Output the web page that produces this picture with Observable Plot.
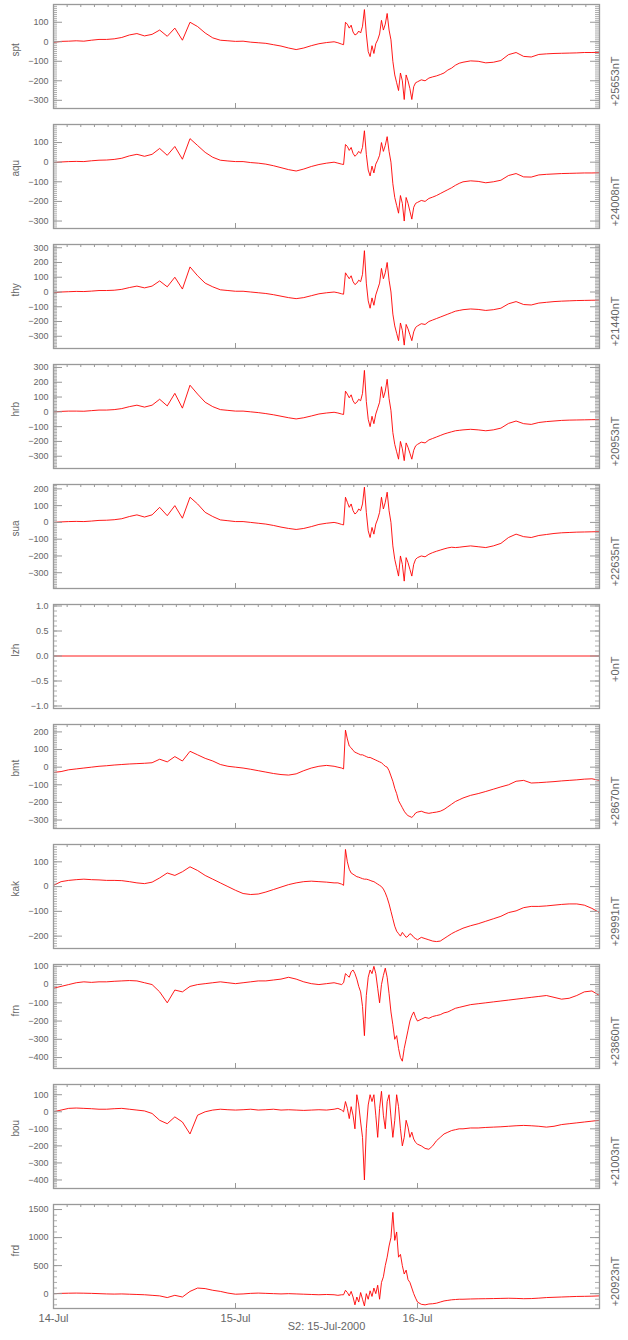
<!DOCTYPE html>
<html>
<head>
<meta charset="utf-8">
<script src="https://cdn.jsdelivr.net/npm/d3@7"></script>
<script src="https://cdn.jsdelivr.net/npm/@observablehq/plot@0.6"></script>
<style>
  body { margin: 0; background: #fff; }
  #chart svg { display: block; }
</style>
</head>
<body>
<div id="chart"></div>
<script>
// Hours since 14-Jul-2000 00:00 UT (shared time grid)
const hours = [0,1,2,3,4,5,6,7,8,9,10,11,12,13,14,15,16,17,18,19,20,21,22,23,24,25,26,27,28,29,30,31,32,33,34,35,36,37,
  37.5,38,
  38.25,38.5,38.75,39,39.25,39.5,39.75,40,40.25,40.5,40.75,41,41.25,41.5,41.75,42,42.25,42.5,42.75,43,43.25,43.5,43.75,44,44.25,44.5,44.75,45,45.25,45.5,45.75,46,46.25,46.5,46.75,47,47.25,47.5,47.75,48,
  48.5,49,49.5,50,50.5,51,51.5,52,52.5,53,53.5,54,
  55,56,57,58,59,60,61,62,63,64,65,66,67,68,69,70,71,72];

const spt = [-3,2,3,5,3,8,12,12,15,22,35,42,30,38,60,28,70,8,100,78,45,20,8,5,2,3,-2,-5,-8,-15,-22,-32,-40,-32,-20,-10,-4,0,
  -5,-12,
  -15,100,90,70,85,50,35,40,55,45,80,165,40,-50,-76,-20,-60,-10,10,40,110,60,90,145,60,10,-100,-170,-210,-250,-160,-200,-296,-170,-200,-240,-296,-230,-210,-205,
  -195,-200,-186,-180,-175,-168,-160,-145,-135,-120,-110,-105,
  -98,-100,-108,-105,-96,-66,-55,-75,-78,-65,-62,-60,-59,-58,-57,-55,-55,-54];

const aqu = [-2,1,3,4,3,7,10,11,14,20,32,40,30,40,70,35,80,15,120,85,50,25,10,6,3,3,-2,-5,-10,-18,-28,-38,-45,-35,-22,-12,-5,0,
  -5,-10,
  -12,90,80,60,75,45,30,40,55,45,75,160,40,-40,-70,-20,-55,-10,10,35,100,55,85,130,55,0,-110,-180,-220,-260,-170,-210,-300,-180,-210,-250,-290,-230,-210,-205,
  -195,-200,-185,-178,-170,-160,-150,-140,-130,-118,-108,-100,
  -95,-98,-105,-100,-92,-68,-58,-75,-76,-65,-62,-60,-58,-57,-56,-55,-55,-54];

const thy = [-5,0,2,4,3,6,10,10,12,18,30,40,28,40,75,35,100,20,170,110,60,35,15,10,5,5,0,-5,-10,-18,-28,-38,-45,-38,-25,-12,-5,0,
  -5,-12,
  -15,130,110,90,110,70,50,60,80,70,120,280,60,-60,-110,-40,-90,-20,20,60,160,90,130,200,80,0,-150,-230,-280,-330,-210,-260,-360,-220,-250,-290,-330,-270,-240,-230,
  -215,-220,-200,-190,-180,-170,-160,-150,-140,-130,-125,-120,
  -115,-118,-125,-120,-110,-80,-65,-85,-88,-75,-70,-65,-62,-60,-58,-57,-56,-55];

const hrb = [0,3,5,5,4,8,12,12,15,22,35,45,32,45,85,40,125,25,180,120,65,35,15,10,5,5,0,-5,-12,-20,-30,-40,-48,-40,-28,-15,-8,-3,
  -8,-15,
  -18,140,120,95,115,75,55,65,85,75,125,280,70,-50,-100,-30,-80,-15,25,65,170,95,140,220,90,10,-140,-220,-270,-320,-200,-250,-330,-210,-240,-280,-320,-260,-230,-220,
  -205,-210,-190,-180,-170,-160,-150,-142,-135,-128,-125,-122,
  -118,-122,-128,-122,-110,-78,-62,-80,-85,-72,-66,-62,-58,-56,-55,-54,-53,-52];

const sua = [0,3,5,6,5,8,12,13,16,22,35,45,32,45,90,40,100,25,150,110,60,35,15,10,5,5,0,-5,-10,-18,-28,-36,-42,-36,-25,-12,-5,0,
  -5,-12,
  -15,150,120,90,110,70,50,60,80,70,110,210,60,-50,-90,-30,-70,-10,20,60,150,80,120,180,70,0,-140,-220,-270,-320,-200,-250,-350,-210,-240,-280,-320,-250,-220,-210,
  -200,-205,-190,-180,-172,-165,-158,-152,-148,-150,-148,-145,
  -140,-145,-150,-140,-125,-90,-70,-85,-90,-78,-72,-66,-62,-60,-58,-57,-56,-55];

const lzhHours = [0, 72];
const lzh = [0, 0];

const bmt = [-30,-25,-15,-10,-5,0,5,8,12,15,18,20,22,25,45,30,60,35,90,70,50,35,15,5,0,-5,-12,-20,-28,-36,-42,-45,-38,-20,-5,5,10,5,
  0,-5,
  -10,210,160,120,110,95,85,80,75,70,70,65,60,55,55,50,45,40,35,30,25,15,5,0,-20,-50,-80,-120,-150,-190,-210,-230,-250,-265,-275,-280,-285,-275,-260,-255,
  -250,-258,-262,-258,-255,-250,-240,-225,-210,-195,-185,-175,
  -160,-150,-138,-125,-112,-100,-80,-75,-90,-88,-85,-82,-78,-75,-72,-68,-66,-75];

const kak = [5,20,25,28,30,28,27,25,25,24,20,15,12,18,35,55,45,60,80,65,45,30,15,0,-15,-28,-32,-30,-22,-12,-2,8,15,20,22,20,18,15,
  15,10,
  5,150,100,70,55,50,45,40,38,35,32,30,30,28,25,22,20,15,10,5,0,-10,-25,-45,-70,-100,-130,-160,-180,-190,-200,-185,-195,-205,-200,-190,-195,-205,-210,-215,
  -205,-210,-215,-220,-222,-220,-210,-200,-190,-182,-175,-168,
  -158,-150,-140,-130,-120,-105,-98,-85,-80,-80,-78,-75,-72,-70,-70,-75,-88,-105];

const frn = [-20,-10,0,10,15,12,15,15,18,20,22,20,10,0,-40,-100,-30,-40,-10,0,5,10,15,10,5,10,15,20,20,25,30,40,30,15,5,0,5,10,
  5,0,
  10,60,50,40,70,80,60,30,-10,-40,-120,-280,-60,40,80,60,100,60,-20,-100,0,50,90,40,-50,-150,-220,-300,-280,-350,-400,-420,-350,-300,-250,-200,-170,-150,-180,-200,
  -190,-180,-185,-175,-170,-165,-155,-150,-140,-130,-125,-120,
  -110,-105,-100,-95,-90,-85,-80,-75,-70,-65,-60,-70,-80,-75,-60,-40,-35,-60];

const bou = [0,10,20,22,20,18,15,15,18,20,15,10,5,-10,-50,-70,-30,-60,-130,-20,0,10,15,12,10,12,15,10,12,15,10,12,10,8,10,12,10,15,
  20,10,
  0,60,20,-40,30,-20,-100,100,40,-60,-150,-400,-100,40,100,60,100,-20,-150,20,120,-20,-100,60,100,-30,-150,-50,100,30,-100,-200,-150,-50,-90,-150,-120,-160,-180,-190,
  -200,-215,-220,-200,-170,-150,-130,-120,-110,-105,-100,-100,
  -95,-95,-92,-90,-88,-85,-82,-80,-82,-85,-90,-85,-75,-70,-65,-60,-55,-50];

const frd = [0,5,8,10,8,5,0,-5,-8,-5,-10,-15,-20,-30,-40,-70,-30,-60,40,100,90,60,40,10,-10,-5,5,10,5,0,-5,0,-5,-10,-15,-20,-15,-20,
  -30,-20,
  -20,60,20,-40,40,-60,-200,-60,-150,20,-100,-220,0,-100,50,-50,100,0,150,-100,200,300,500,650,850,1000,1450,950,1100,650,700,500,350,420,250,200,100,0,-80,-150,
  -190,-200,-185,-180,-170,-150,-130,-120,-110,-105,-100,-100,
  -95,-92,-90,-88,-85,-82,-85,-90,-88,-80,-70,-65,-60,-55,-50,-48,-45,-40];

const stations = ["spt","aqu","thy","hrb","sua","lzh","bmt","kak","frn","bou","frd"];
const baselines = ["+25653nT","+24008nT","+21440nT","+20953nT","+22635nT","+0nT","+28670nT","+29991nT","+23860nT","+21003nT","+20923nT"];
const yDomains = [[-342,191],[-338,192],[-383,322],[-383,320],[-394,226],[-1.05,1.03],[-348,242],[-250,170],[-460,110],[-450,160],[-265,1590]];
const majorSteps = [100,100,100,100,100,0.5,100,100,100,100,500];
const minorSteps = [10,10,10,10,10,0.1,10,10,10,10,100];
const dayTickHours = [0,24,48];
const dayLabels = ["14-Jul","15-Jul","16-Jul"];
const caption = "S2: 15-Jul-2000";

const seriesValues = [spt,aqu,thy,hrb,sua,lzh,bmt,kak,frn,bou,frd];
const seriesHours = stations.map(s => s === "lzh" ? lzhHours : hours);

const W = 628, ML = 53, MR = 29;
const PW = W - ML - MR;
const GREY = "#999";
const topTicks = d3.range(0, 72.001, 1.8);

function stepTicks(lo, hi, step) {
  const a = Math.ceil(lo / step - 1e-9), b = Math.floor(hi / step + 1e-9);
  return d3.range(a, b + 1).map(k => +(k * step).toFixed(6));
}

const chart = document.getElementById("chart");
stations.forEach((name, i) => {
  const last = i === stations.length - 1;
  const H = last ? 140 : 120, MT = 4, MB = last ? 32 : 12;
  const PH = H - MT - MB;
  const [lo, hi] = yDomains[i];
  const majors = stepTicks(lo, hi, majorSteps[i]);
  const minors = stepTicks(lo, hi, minorSteps[i]);
  const fmt = majorSteps[i] < 1 ? d3.format(".1f") : d3.format("d");
  const xs = seriesHours[i], vs = seriesValues[i];
  const data = xs.map((h, k) => ({h, v: vs[k]}));
  const marks = [
    Plot.lineY(data, {x: "h", y: "v", stroke: "#ff0000", strokeWidth: 0.9, clip: true}),
    Plot.tickY(minors, {y: d => d, stroke: GREY, strokeWidth: 0.8, insetRight: PW - 4}),
    Plot.tickY(minors, {y: d => d, stroke: GREY, strokeWidth: 0.8, insetLeft: PW - 4}),
    Plot.tickY(majors, {y: d => d, stroke: GREY, insetRight: PW - 9}),
    Plot.tickY(majors, {y: d => d, stroke: GREY, insetLeft: PW - 9}),
    Plot.tickX(topTicks, {x: d => d, stroke: GREY, insetBottom: PH - 3}),
    Plot.tickX(dayTickHours.slice(1), {x: d => d, stroke: GREY, insetTop: PH - 5}),
    Plot.frame({stroke: GREY, strokeWidth: 1.3}),
    Plot.axisY(majors, {tickSize: 0, tickPadding: 5, tickFormat: fmt, label: null, fontSize: 9}),
    Plot.text([name], {text: d => d, frameAnchor: "left", dx: -38, rotate: -90, fontSize: 10, fill: "#666"}),
    Plot.text([baselines[i]], {text: d => d, frameAnchor: "right", dx: 16, rotate: -90, fontSize: 11, fill: "#666"})
  ];
  if (last) {
    marks.push(Plot.axisX(dayTickHours, {tickSize: 0, tickPadding: 6, tickFormat: d => dayLabels[dayTickHours.indexOf(d)], label: null, fontSize: 11}));
    marks.push(Plot.text([caption], {text: d => d, frameAnchor: "bottom", dy: 21, fontSize: 11, fill: "#666"}));
  }
  const svg = Plot.plot({
    width: W, height: H,
    marginLeft: ML, marginRight: MR, marginTop: MT, marginBottom: MB,
    x: {domain: [0, 72], axis: last ? undefined : null},
    y: {domain: [lo, hi]},
    style: {fontFamily: "'Liberation Sans', Arial, sans-serif", fontSize: "9px", color: "#666", background: "#fff", overflow: "visible"},
    marks
  });
  chart.appendChild(svg);
});
</script>
</body>
</html>
